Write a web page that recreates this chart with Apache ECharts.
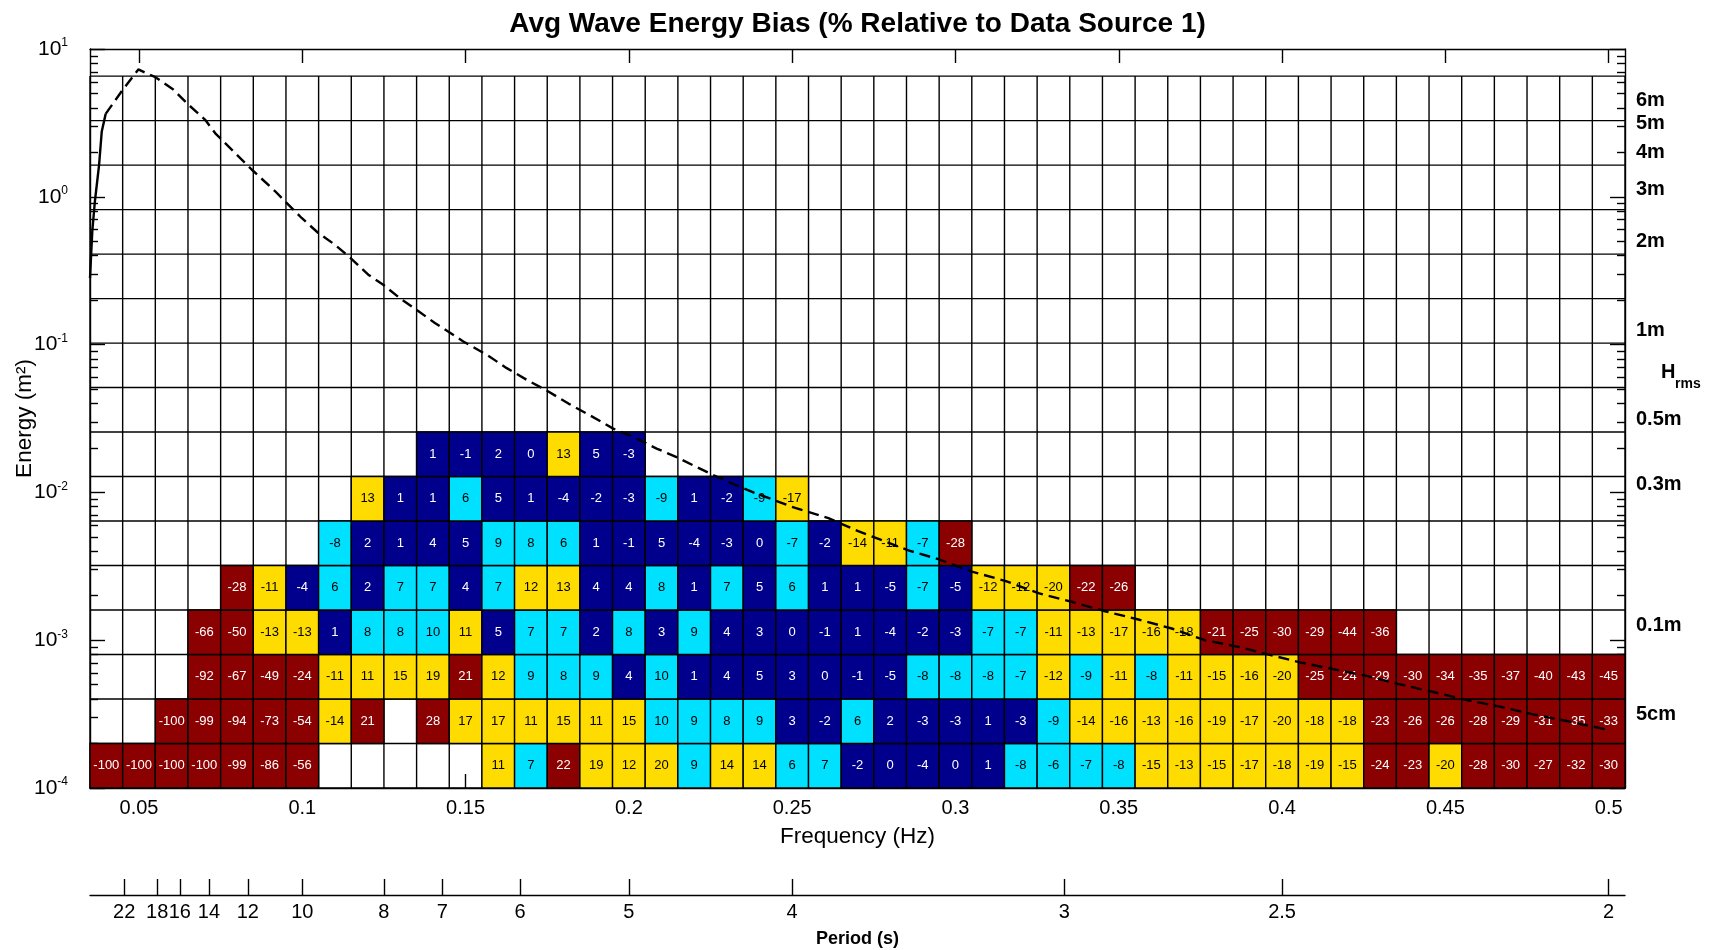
<!DOCTYPE html>
<html><head><meta charset="utf-8">
<script src="https://cdn.jsdelivr.net/npm/echarts@6/dist/echarts.min.js"></script>
<style>html,body{margin:0;padding:0;background:#fff}#c{width:1715px;height:950px}</style>
</head><body><div id="c"></div>
<script>
// ================= DATA =================
// Frequency bin centres (Hz)
const freqCenters = [0.04,0.05,0.06,0.07,0.08,0.09,0.10,0.11,0.12,0.13,0.14,0.15,0.16,0.17,0.18,0.19,0.20,0.21,0.22,0.23,0.24,0.25,0.26,0.27,0.28,0.29,0.30,0.31,0.32,0.33,0.34,0.35,0.36,0.37,0.38,0.39,0.40,0.41,0.42,0.43,0.44,0.45,0.46,0.47,0.48,0.49,0.50];
// Energy bin edges (m^2), also the horizontal grid lines
const energyEdges = [0.0001,0.0002,0.0004,0.0008,0.0016,0.0032,0.0064,0.0128,0.0256,0.0512,0.1024,0.2048,0.4096,0.8192,1.6384,3.2768,6.5536];
// Bias (%) per energy row, one value per frequency bin (null = no data)
const bias0 = [-100,-100,-100,-100,-99,-86,-56,null,null,null,null,null,11,7,22,19,12,20,9,14,14,6,7,-2,0,-4,0,1,-8,-6,-7,-8,-15,-13,-15,-17,-18,-19,-15,-24,-23,-20,-28,-30,-27,-32,-30];
const bias1 = [null,null,-100,-99,-94,-73,-54,-14,21,null,28,17,17,11,15,11,15,10,9,8,9,3,-2,6,2,-3,-3,1,-3,-9,-14,-16,-13,-16,-19,-17,-20,-18,-18,-23,-26,-26,-28,-29,-31,-35,-33];
const bias2 = [null,null,null,-92,-67,-49,-24,-11,11,15,19,21,12,9,8,9,4,10,1,4,5,3,0,-1,-5,-8,-8,-8,-7,-12,-9,-11,-8,-11,-15,-16,-20,-25,-24,-29,-30,-34,-35,-37,-40,-43,-45];
const bias3 = [null,null,null,-66,-50,-13,-13,1,8,8,10,11,5,7,7,2,8,3,9,4,3,0,-1,1,-4,-2,-3,-7,-7,-11,-13,-17,-16,-18,-21,-25,-30,-29,-44,-36,null,null,null,null,null,null,null];
const bias4 = [null,null,null,null,-28,-11,-4,6,2,7,7,4,7,12,13,4,4,8,1,7,5,6,1,1,-5,-7,-5,-12,-12,-20,-22,-26,null,null,null,null,null,null,null,null,null,null,null,null,null,null,null];
const bias5 = [null,null,null,null,null,null,null,-8,2,1,4,5,9,8,6,1,-1,5,-4,-3,0,-7,-2,-14,-11,-7,-28,null,null,null,null,null,null,null,null,null,null,null,null,null,null,null,null,null,null,null,null];
const bias6 = [null,null,null,null,null,null,null,null,13,1,1,6,5,1,-4,-2,-3,-9,1,-2,-9,-17,null,null,null,null,null,null,null,null,null,null,null,null,null,null,null,null,null,null,null,null,null,null,null,null,null];
const bias7 = [null,null,null,null,null,null,null,null,null,null,1,-1,2,0,13,5,-3,null,null,null,null,null,null,null,null,null,null,null,null,null,null,null,null,null,null,null,null,null,null,null,null,null,null,null,null,null,null];
// Average energy spectrum
const specFreq = [0.035,0.0357,0.0365,0.0378,0.0386,0.0398,0.0447,0.0498,0.055,0.0605,0.0651,0.0702,0.0733,0.0794,0.0845,0.0917,0.0947,0.0998,0.1049,0.110,0.1148,0.1202,0.1248,0.130,0.1356,0.1406,0.1493,0.1565,0.1626,0.1687,0.1748,0.1815,0.1881,0.1952,0.2014,0.2085,0.2146,0.2258,0.232,0.2381,0.2463,0.2498,0.2611,0.2702,0.2856,0.295,0.305,0.3152,0.3254,0.3356,0.3458,0.356,0.3662,0.3764,0.3866,0.3968,0.4055,0.4147,0.4259,0.4351,0.4463,0.4565,0.4667,0.4769,0.4871,0.4989];
const specEnergy = [0.282,0.584,0.933,1.66,2.77,3.64,5.18,7.27,6.45,5.32,4.21,3.33,2.70,1.98,1.53,1.09,0.933,0.719,0.569,0.474,0.385,0.297,0.254,0.2048,0.168,0.140,0.105,0.0853,0.0693,0.0578,0.049,0.0399,0.0332,0.027,0.0237,0.0198,0.0173,0.0131,0.0114,0.0100,0.00857,0.0080,0.00669,0.00547,0.00405,0.00352,0.00291,0.00252,0.00208,0.00182,0.00157,0.00138,0.0012,0.0010,0.000902,0.00079,0.000708,0.000643,0.000573,0.000509,0.000446,0.000394,0.000355,0.000315,0.000284,0.00025];
// Tick labels
const freqTicks = [0.05,0.1,0.15,0.2,0.25,0.3,0.35,0.4,0.45,0.5];
const energyDecades = [-4,-3,-2,-1,0,1];
const minorMantissas = [2,3,4,5,6,7,8,9];
const periodTicks = [22,18,16,14,12,10,8,7,6,5,4,3,2.5,2];
const hrmsTicks = [6,5,4,3,2,1,0.5,0.3,0.1,0.05];
// Colour classes by |bias|
const biasBreaks = [5,10,20];
const biasColors = ['#00008c','#00e0ff','#ffdc00','#8b0000'];
const biasTextColors = ['#ffffff','#000000','#000000','#ffffff'];

// ================= BUILD =================
const FONT = '"Liberation Sans", Arial, Helvetica, sans-serif';
const log10 = Math.log10;
const halfW = (freqCenters[1] - freqCenters[0]) / 2;
const fMin = freqCenters[0] - halfW;
const fMax = freqCenters[freqCenters.length - 1] + halfW;
const biasRows = [bias0,bias1,bias2,bias3,bias4,bias5,bias6,bias7];
const cellData = [];
biasRows.forEach((row, r) => row.forEach((v, c) => {
  if (v !== null) cellData.push([freqCenters[c], log10(energyEdges[r]), log10(energyEdges[r + 1]), v]);
}));
const yLo = log10(energyEdges[0]);
const yHi = log10(energyEdges[energyEdges.length - 1]);
const gridData = [];
freqCenters.forEach(f => gridData.push([f - halfW, yLo, f - halfW, yHi]));
gridData.push([fMax, yLo, fMax, yHi]);
energyEdges.forEach(e => gridData.push([fMin, log10(e), fMax, log10(e)]));
const specPts = specFreq.map((f, i) => [f, log10(specEnergy[i])]);
const specSolid = specPts.filter(p => p[0] <= 0.0399);
const specDashed = specPts.filter(p => p[0] >= 0.0397);
const minorLog = [];
energyDecades.slice(0, -1).forEach(d => minorMantissas.forEach(m => minorLog.push(d + log10(m))));
const periodVals = periodTicks.map(T => 1 / T);
const hrmsVals = hrmsTicks.map(h => log10(h * h / 8));
function colorIdx(v) {
  const a = Math.abs(v);
  let k = 0;
  while (k < biasBreaks.length && a > biasBreaks[k]) k++;
  return k;
}
const BLK = {color: '#000', width: 1.4};

const option = {
  animation: false,
  backgroundColor: '#fff',
  textStyle: {fontFamily: FONT, color: '#000'},
  title: {
    text: 'Avg Wave Energy Bias (% Relative to Data Source 1)',
    left: 'center', top: 5,
    textStyle: {fontSize: 28, fontWeight: 'bold', color: '#000', fontFamily: FONT}
  },
  grid: {left: 90, top: 49, width: 1535, height: 739, containLabel: false, outerBoundsMode: 'none'},
  xAxis: [
    {
      type: 'value', min: fMin, max: fMax, position: 'bottom',
      axisLine: {show: true, onZero: false, lineStyle: BLK},
      axisTick: {show: true, inside: true, length: 14, customValues: freqTicks, lineStyle: BLK},
      axisLabel: {customValues: freqTicks, formatter: v => String(Math.round(v * 100) / 100),
        color: '#000', fontSize: 20, fontFamily: FONT, margin: 10},
      splitLine: {show: false},
      name: 'Frequency (Hz)', nameLocation: 'middle', nameGap: 37,
      nameTextStyle: {fontSize: 22.5, color: '#000', fontFamily: FONT}
    },
    {
      type: 'value', min: fMin, max: fMax, position: 'top',
      axisLine: {show: true, onZero: false, lineStyle: BLK},
      axisTick: {show: true, inside: true, length: 14, customValues: freqTicks, lineStyle: BLK},
      axisLabel: {show: false}, splitLine: {show: false}
    },
    {
      type: 'value', min: fMin, max: fMax, position: 'bottom', offset: 107,
      axisLine: {show: true, onZero: false, lineStyle: BLK},
      axisTick: {show: true, inside: true, length: 16, customValues: periodVals, lineStyle: BLK},
      axisLabel: {customValues: periodVals, formatter: v => String(Math.round(10 / v) / 10),
        color: '#000', fontSize: 20, fontFamily: FONT, margin: 7},
      splitLine: {show: false},
      name: 'Period (s)', nameLocation: 'middle', nameGap: 35,
      nameTextStyle: {fontSize: 18, fontWeight: 'bold', color: '#000', fontFamily: FONT}
    }
  ],
  yAxis: [
    {
      type: 'value', min: -4, max: 1, position: 'left',
      axisLine: {show: true, onZero: false, lineStyle: BLK},
      axisTick: {show: true, inside: true, length: 15, customValues: energyDecades, lineStyle: BLK},
      axisLabel: {customValues: energyDecades, margin: 22,
        formatter: v => '{b|10}{s|' + Math.round(v) + '}',
        rich: {
          b: {fontSize: 21, fontFamily: FONT, color: '#000', lineHeight: 24},
          s: {fontSize: 12, fontFamily: FONT, color: '#000', lineHeight: 14, verticalAlign: 'top'}
        }},
      splitLine: {show: false},
      name: 'Energy (m²)', nameLocation: 'middle', nameGap: 54, nameMoveOverlap: false,
      nameTextStyle: {fontSize: 22.5, color: '#000', fontFamily: FONT}
    },
    {
      type: 'value', min: -4, max: 1, position: 'right',
      axisLine: {show: true, onZero: false, lineStyle: BLK},
      axisTick: {show: true, inside: true, length: 15, customValues: energyDecades, lineStyle: BLK},
      axisLabel: {customValues: hrmsVals, margin: 11, color: '#000', fontSize: 20, fontWeight: 'bold', fontFamily: FONT,
        formatter: v => {
          const h = Math.sqrt(8 * Math.pow(10, v));
          return h < 0.095 ? Math.round(h * 100) + 'cm' : (Math.round(h * 10) / 10) + 'm';
        }},
      splitLine: {show: false}
    },
    {
      type: 'value', min: -4, max: 1, position: 'left',
      axisLine: {show: false},
      axisTick: {show: true, inside: true, length: 8, customValues: minorLog, lineStyle: BLK},
      axisLabel: {show: false}, splitLine: {show: false}
    },
    {
      type: 'value', min: -4, max: 1, position: 'right',
      axisLine: {show: false},
      axisTick: {show: true, inside: true, length: 8, customValues: minorLog, lineStyle: BLK},
      axisLabel: {show: false}, splitLine: {show: false}
    }
  ],
  graphic: [
    {type: 'text', left: 1661, top: 362, style: {text: 'H', font: 'bold 20px ' + FONT, fill: '#000'}},
    {type: 'text', left: 1675, top: 377, style: {text: 'rms', font: 'bold 14px ' + FONT, fill: '#000'}}
  ],
  series: [
    {
      type: 'custom', name: 'grid', xAxisIndex: 0, yAxisIndex: 0, silent: true, z: 1,
      encode: {x: [0, 2], y: [1, 3]},
      data: gridData,
      renderItem: (params, api) => {
        const a = api.coord([api.value(0), api.value(1)]);
        const b = api.coord([api.value(2), api.value(3)]);
        return {type: 'line', shape: {x1: a[0], y1: a[1], x2: b[0], y2: b[1]},
          style: {stroke: '#000', lineWidth: 1.4}};
      }
    },
    {
      type: 'custom', name: 'bias', xAxisIndex: 0, yAxisIndex: 0, silent: true, z: 2,
      encode: {x: 0, y: [1, 2]},
      data: cellData,
      renderItem: (params, api) => {
        const f = api.value(0), v = api.value(3);
        const p0 = api.coord([f - halfW, api.value(1)]);
        const p1 = api.coord([f + halfW, api.value(2)]);
        const k = colorIdx(v);
        return {type: 'group', children: [
          {type: 'rect', shape: {x: p0[0], y: p1[1], width: p1[0] - p0[0], height: p0[1] - p1[1]},
            style: {fill: biasColors[k], stroke: '#000', lineWidth: 1.4}},
          {type: 'text', x: (p0[0] + p1[0]) / 2, y: (p0[1] + p1[1]) / 2,
            style: {text: String(v), fill: biasTextColors[k], font: '13px ' + FONT, align: 'center', verticalAlign: 'middle'}}
        ]};
      }
    },
    {
      type: 'line', name: 'spectrum', xAxisIndex: 0, yAxisIndex: 0, z: 5, silent: true,
      data: specSolid, symbol: 'none', showSymbol: false,
      lineStyle: {color: '#000', width: 2.4, type: 'solid'}
    },
    {
      type: 'line', name: 'spectrum tail', xAxisIndex: 0, yAxisIndex: 0, z: 5, silent: true,
      data: specDashed, symbol: 'none', showSymbol: false,
      lineStyle: {color: '#000', width: 2.4, type: [11, 6]}
    }
  ]
};
const chart = echarts.init(document.getElementById('c'));
chart.setOption(option);
</script>
</body></html>
